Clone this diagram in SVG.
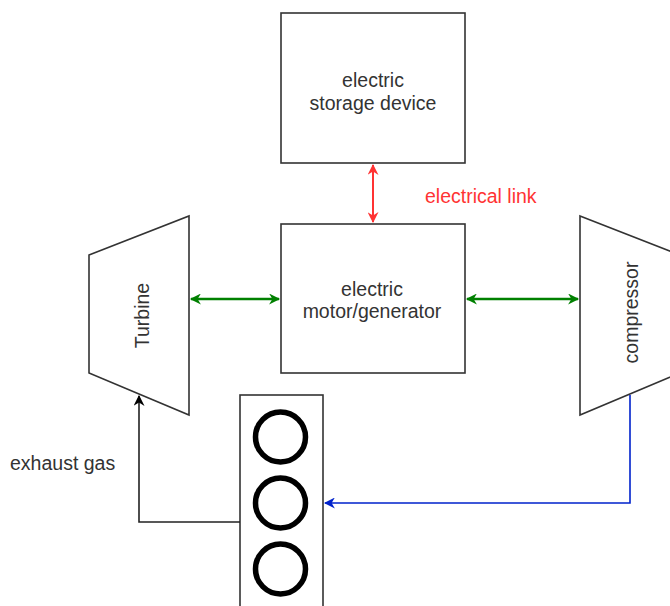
<svg xmlns="http://www.w3.org/2000/svg" width="670" height="606" viewBox="0 0 670 606">
<style>
.box{fill:#fff;stroke:#333;stroke-width:1.6}
.lbl{font-family:"Liberation Sans",Arial,sans-serif;font-size:19.5px;fill:#333;text-anchor:middle}
.cyl{fill:none;stroke:#000;stroke-width:5.5}
</style>
<defs>
<marker id="ag" viewBox="0 0 10 10" refX="9" refY="5" markerWidth="13" markerHeight="11" orient="auto-start-reverse" markerUnits="userSpaceOnUse"><path d="M0,0 L10,5 L0,10 L3,5 z" fill="#008000"/></marker>
<marker id="ar" viewBox="0 0 10 10" refX="9" refY="5" markerWidth="12" markerHeight="11" orient="auto-start-reverse" markerUnits="userSpaceOnUse"><path d="M0,0 L10,5 L0,10 L3,5 z" fill="#ff3333"/></marker>
<marker id="ab" viewBox="0 0 10 10" refX="9" refY="5" markerWidth="11" markerHeight="11" orient="auto" markerUnits="userSpaceOnUse"><path d="M0,0 L10,5 L0,10 L3,5 z" fill="#0022cc"/></marker>
<marker id="ak" viewBox="0 0 10 10" refX="9" refY="5" markerWidth="11" markerHeight="11" orient="auto" markerUnits="userSpaceOnUse"><path d="M0,0 L10,5 L0,10 L3,5 z" fill="#000"/></marker>
</defs>
<rect width="670" height="606" fill="#fff"/>
<g id="storage">
<rect class="box" x="281" y="13" width="184" height="150"/>
<text class="lbl" x="373" y="87">electric</text>
<text class="lbl" x="373" y="110">storage device</text>
</g>
<g id="motor">
<rect class="box" x="281" y="224" width="184" height="149"/>
<text class="lbl" x="372" y="296">electric</text>
<text class="lbl" x="372" y="318">motor/generator</text>
</g>
<g id="turbine">
<polygon class="box" points="89,255 189,216 189,415 89,373"/>
<text class="lbl" transform="translate(149,315.5) rotate(-90)">Turbine</text>
</g>
<g id="compressor">
<polygon class="box" points="580,216 680,255 680,373 580,415"/>
<text class="lbl" transform="translate(638,312.5) rotate(-90)">compressor</text>
</g>
<g id="engine">
<rect class="box" x="240" y="395" width="83" height="225"/>
<circle class="cyl" cx="280.5" cy="437" r="25"/>
<circle class="cyl" cx="280.5" cy="503" r="25"/>
<circle class="cyl" cx="280.5" cy="569" r="25"/>
</g>
<g id="connectors" fill="none">
<line x1="373" y1="165" x2="373" y2="222" stroke="#ff3333" stroke-width="2" marker-start="url(#ar)" marker-end="url(#ar)"/>
<line x1="191" y1="299" x2="279" y2="299" stroke="#008000" stroke-width="2.4" marker-start="url(#ag)" marker-end="url(#ag)"/>
<line x1="467" y1="299" x2="578" y2="299" stroke="#008000" stroke-width="2.4" marker-start="url(#ag)" marker-end="url(#ag)"/>
<polyline points="630,395 630,503 325,503" stroke="#0022cc" stroke-width="1.6" marker-end="url(#ab)"/>
<polyline points="240,522 139,522 139,396" stroke="#222" stroke-width="1.6" marker-end="url(#ak)"/>
</g>
<text class="lbl" x="425" y="203" style="text-anchor:start;fill:#ff3333">electrical link</text>
<text class="lbl" x="10" y="470" style="text-anchor:start">exhaust gas</text>
</svg>
